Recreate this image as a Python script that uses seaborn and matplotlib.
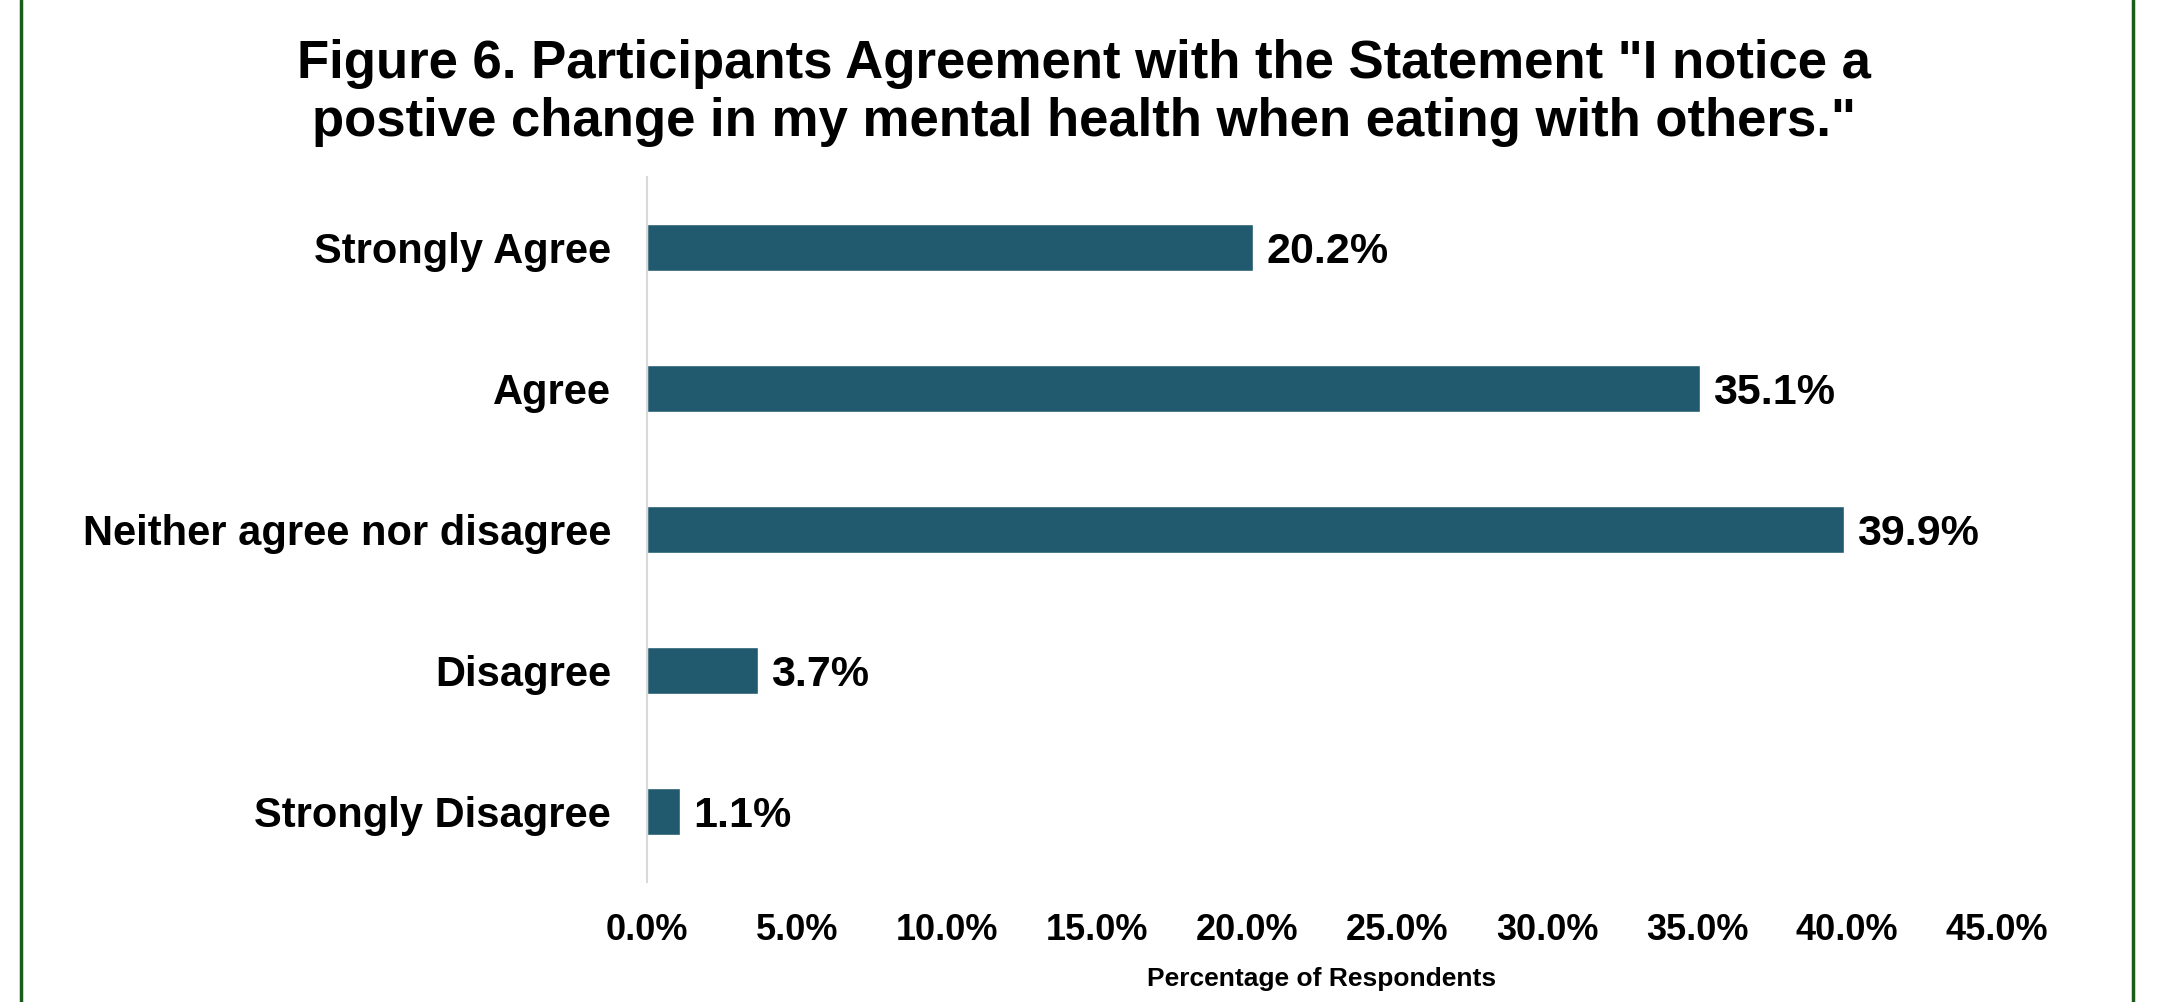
import pandas as pd
import matplotlib as mpl
import matplotlib.pyplot as plt
import seaborn as sns
from matplotlib.lines import Line2D
from matplotlib.ticker import FuncFormatter
mpl.use('agg')

categories = ['Strongly Agree', 'Agree', 'Neither agree nor disagree', 'Disagree', 'Strongly Disagree']
percents = [20.2, 35.1, 39.9, 3.7, 1.1]
xticks = [0, 5, 10, 15, 20, 25, 30, 35, 40, 45]

df = pd.DataFrame({'response': categories, 'pct': percents})

sns.set_style('white')
plt.rcParams['font.family'] = ['Liberation Sans', 'DejaVu Sans']
plt.rcParams['font.weight'] = 'bold'
plt.rcParams['text.color'] = 'black'
plt.rcParams['xtick.color'] = 'black'
plt.rcParams['ytick.color'] = 'black'
plt.rcParams['axes.labelcolor'] = 'black'

fig = plt.figure(figsize=(21.68, 10.02), dpi=100)
ax = fig.add_axes([647/2168, 1-882/1002, (1997-647)/2168, (882-177)/1002])
sns.barplot(data=df, x='pct', y='response', order=categories, color='#215a6f',
            saturation=1, width=0.34, ax=ax)

for i, v in enumerate(percents):
    ax.text(v + 0.45, i, '%.1f%%' % v, va='center_baseline', ha='left', fontsize=31, fontweight='bold')

ax.set_xlim(0, 45)
ax.set_ylim(4.5, -0.5)
ax.set_xticks(xticks)
ax.xaxis.set_major_formatter(FuncFormatter(lambda x, p: '%.1f%%' % x))
ax.tick_params(axis='x', labelsize=26, length=0, pad=22)
ax.tick_params(axis='y', labelsize=30, length=0, pad=26)
for lab in ax.get_xticklabels() + ax.get_yticklabels():
    lab.set_fontweight('bold')
ax.set_ylabel('')
ax.set_xlabel('Percentage of Respondents', fontsize=19, fontweight='bold', labelpad=14)
for s in ['top', 'right', 'bottom']:
    ax.spines[s].set_visible(False)
ax.spines['left'].set_color('#d9d9d9')
ax.spines['left'].set_linewidth(1.5)

fig.text(0.5, 1-93/1002, 'Figure 6. Participants Agreement with the Statement "I notice a\npostive change in my mental health when eating with others."',
         ha='center', va='center', fontsize=38, fontweight='bold', linespacing=1.22)

fig.add_artist(Line2D([21/2168, 21/2168], [0, 1], color='#1a5c1a', lw=2.5))
fig.add_artist(Line2D([2133/2168, 2133/2168], [0, 1], color='#1a5c1a', lw=2.5))

plt.savefig('out.png', dpi=100)
